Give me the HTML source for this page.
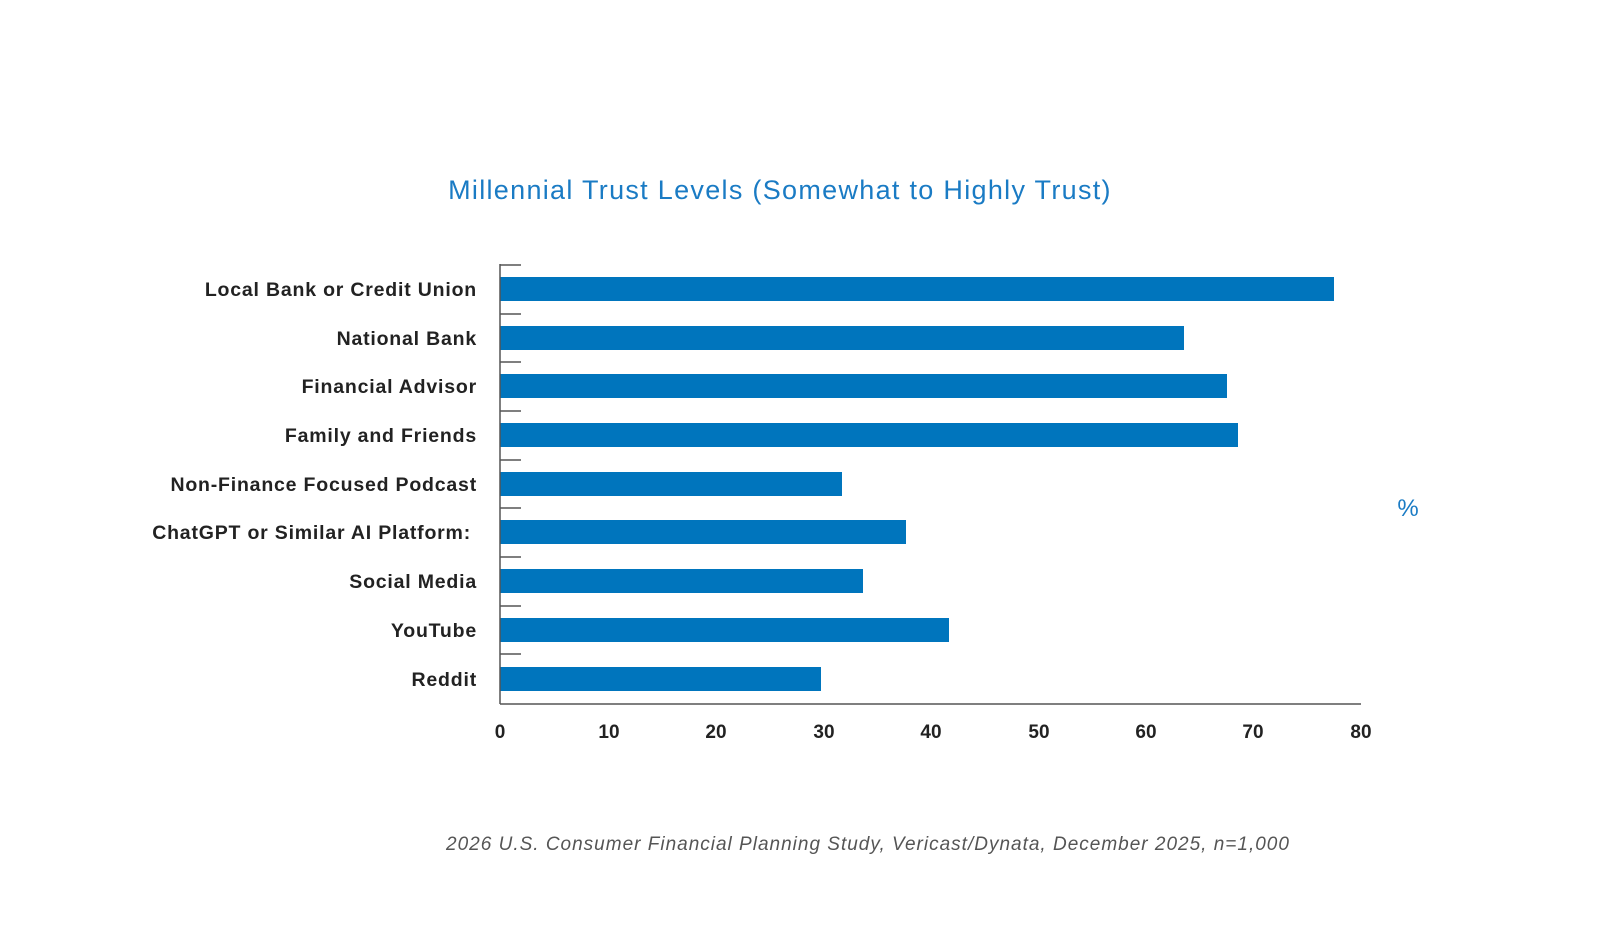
<!DOCTYPE html>
<html><head><style>
body{margin:0;background:#fff;width:1600px;height:941px;overflow:hidden}
svg text{font-family:"Liberation Sans",sans-serif}
</style></head><body>
<svg width="1600" height="941" viewBox="0 0 1600 941">
<text x="780" y="199" text-anchor="middle" font-size="27" letter-spacing="1.3" fill="#1a7bc4">Millennial Trust Levels (Somewhat to Highly Trust)</text>
<g fill="#0075bd">
<rect x="500" y="277" width="834" height="24"/>
<rect x="500" y="326" width="684" height="24"/>
<rect x="500" y="374" width="727" height="24"/>
<rect x="500" y="423" width="738" height="24"/>
<rect x="500" y="472" width="342" height="24"/>
<rect x="500" y="520" width="406" height="24"/>
<rect x="500" y="569" width="363" height="24"/>
<rect x="500" y="618" width="449" height="24"/>
<rect x="500" y="667" width="321" height="24"/>
</g>
<g stroke="#555" stroke-width="1.5">
<line x1="500" y1="264" x2="500" y2="704"/>
<line x1="500" y1="704" x2="1361" y2="704"/>
<line x1="500" y1="265" x2="521" y2="265"/>
<line x1="500" y1="314" x2="521" y2="314"/>
<line x1="500" y1="362" x2="521" y2="362"/>
<line x1="500" y1="411" x2="521" y2="411"/>
<line x1="500" y1="460" x2="521" y2="460"/>
<line x1="500" y1="508" x2="521" y2="508"/>
<line x1="500" y1="557" x2="521" y2="557"/>
<line x1="500" y1="606" x2="521" y2="606"/>
<line x1="500" y1="654" x2="521" y2="654"/>
</g>
<g font-size="19.5" fill="#222" text-anchor="end" font-weight="bold" letter-spacing="0.8">
<text x="477" y="296">Local Bank or Credit Union</text>
<text x="477" y="345">National Bank</text>
<text x="477" y="393">Financial Advisor</text>
<text x="477" y="442">Family and Friends</text>
<text x="477" y="491">Non-Finance Focused Podcast</text>
<text x="471" y="539">ChatGPT or Similar AI Platform:</text>
<text x="477" y="588">Social Media</text>
<text x="477" y="637">YouTube</text>
<text x="477" y="686">Reddit</text>
</g>
<g font-size="19" fill="#222" text-anchor="middle" font-weight="bold">
<text x="500" y="738">0</text><text x="609" y="738">10</text><text x="716" y="738">20</text><text x="824" y="738">30</text><text x="931" y="738">40</text><text x="1039" y="738">50</text><text x="1146" y="738">60</text><text x="1253" y="738">70</text><text x="1361" y="738">80</text>
</g>
<text x="1408" y="516" text-anchor="middle" font-size="24" fill="#1a7bc4">%</text>
<text x="868" y="850" text-anchor="middle" font-size="19" letter-spacing="1" font-style="italic" fill="#555">2026 U.S. Consumer Financial Planning Study, Vericast/Dynata, December 2025, n=1,000</text>
</svg>
</body></html>
